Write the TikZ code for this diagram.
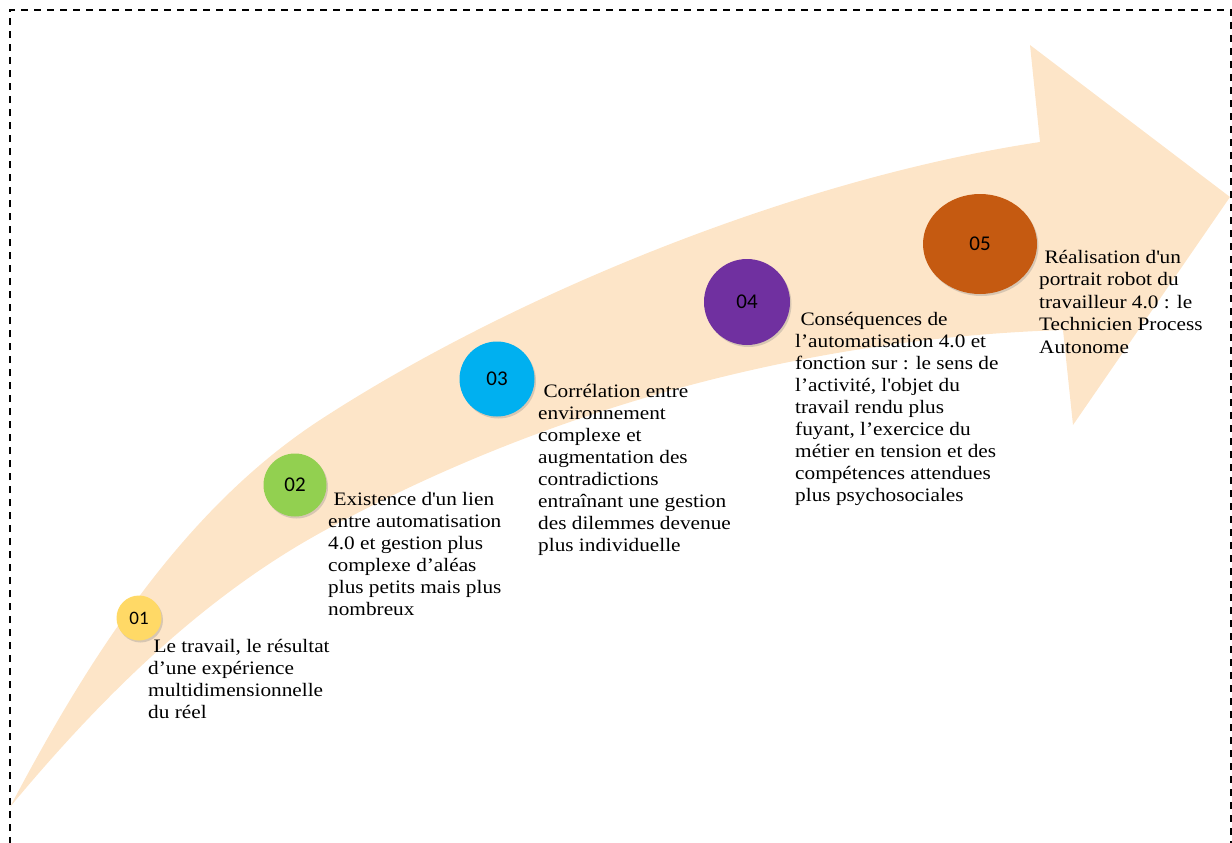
\documentclass[tikz,border=0pt]{standalone}
\usepackage{fontspec}
\setmainfont{Liberation Serif}[FakeStretch=1.12]
\newfontfamily\numfont{Carlito}
\usetikzlibrary{shapes.geometric,shadows}
\definecolor{bandpeach}{RGB}{253,229,200}
\definecolor{stepyellow}{RGB}{255,217,102}
\definecolor{stepgreen}{RGB}{146,208,80}
\definecolor{stepblue}{RGB}{0,176,240}
\definecolor{steppurple}{RGB}{112,48,160}
\definecolor{steporange}{RGB}{197,90,17}
\begin{document}
\begin{tikzpicture}[x=1pt, y=-1pt,
  stepnum/.style={circle, inner sep=0pt, font=\numfont\fontsize{21}{21}\selectfont,
    drop shadow={opacity=0.3, shadow xshift=1.5pt, shadow yshift=-2pt}},
  steptext/.style={anchor=north west, inner sep=0pt, align=left, font=\fontsize{19}{22}\selectfont}]
  \useasboundingbox (0,0) rectangle (1232,843);
  \clip (0,0) rectangle (1232,843);
  \draw[line width=1.3pt, dash pattern=on 7pt off 6pt] (10,870) -- (10,10) -- (1231,10) -- (1231,870);
  % the rising arrow
  \fill[bandpeach] (10,807) .. controls (87,661) and (182,510) .. (320,420)
    .. controls (504,300) and (788,180) .. (1040,142) -- (1030,45) -- (1230,197) -- (1073,425) -- (1063,330)
    .. controls (806,338) and (545,409) .. (320,533) .. controls (199,600) and (98,701) .. (10,807) -- cycle;
  % steps
  \node[stepnum, fill=stepyellow, minimum size=45pt, font=\numfont\fontsize{19}{19}\selectfont] (c1) at (139,618) {01};
  \node[stepnum, fill=stepgreen, minimum size=63pt] (c2) at (295,485) {02};
  \node[stepnum, fill=stepblue, minimum size=75pt] (c3) at (497,379) {03};
  \node[stepnum, fill=steppurple, minimum size=86pt] (c4) at (747,302) {04};
  \node[stepnum, ellipse, fill=steporange, minimum width=114pt, minimum height=100pt] (c5) at (980,244) {05};
  \node[steptext] (t1) at (148,636.6) {\strut\ Le travail, le résultat\\d’une expérience\\multidimensionnelle\\du réel};
  \node[steptext] (t2) at (328,489.6) {\strut\ Existence d\textquotesingle un lien\\entre automatisation\\4.0 et gestion plus\\complexe d’aléas\\plus petits mais plus\\nombreux};
  \node[steptext] (t3) at (538,381.6) {\strut\ Corrélation entre\\environnement\\complexe et\\augmentation des\\contradictions\\entraînant une gestion\\des dilemmes devenue\\plus individuelle};
  \node[steptext] (t4) at (795,309.6) {\strut\ Conséquences de\\l’automatisation 4.0 et\\fonction sur : le sens de\\l’activité, l\textquotesingle objet du\\travail rendu plus\\fuyant, l’exercice du\\métier en tension et des\\compétences attendues\\plus psychosociales};
  \node[steptext, font=\fontsize{19}{22.5}\selectfont] (t5) at (1039,247.2) {\strut\ Réalisation d\textquotesingle un\\portrait robot du\\travailleur 4.0 : le\\Technicien Process\\Autonome};
\end{tikzpicture}
\end{document}
